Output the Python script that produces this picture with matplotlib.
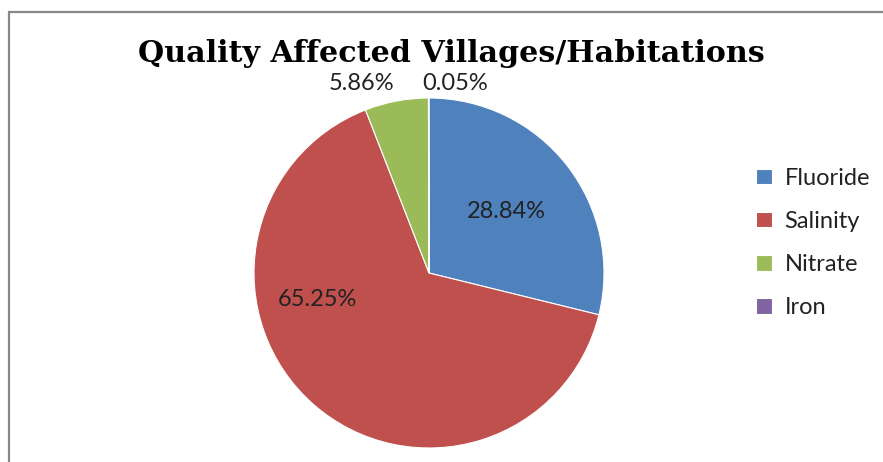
import matplotlib
matplotlib.use('Agg')
from matplotlib import pyplot as plt
from matplotlib.patches import Rectangle

categories = ['Fluoride', 'Salinity', 'Nitrate', 'Iron']
shares = [28.84, 65.25, 5.86, 0.05]
labels = ['28.84%', '65.25%', '5.86%', '0.05%']
colors = ['#4F81BD', '#C0504D', '#9BBB59', '#8064A2']
# label positions in pie units (radius = 1)
label_pos = [(0.44, 0.35), (-0.635, -0.15), (-0.385, 1.085), (0.15, 1.085)]

W, H = 883, 462
fig = plt.figure(figsize=(W / 100, H / 100), dpi=100)

# outer chart frame (cut off at right and bottom)
fig.patches.append(Rectangle((8.5 / W, -0.1), 2.0, 1 - 12.5 / H + 0.1,
                             transform=fig.transFigure, fill=False,
                             edgecolor='#878787', linewidth=1.6))

cx, cy, r = 429, 273, 175
ax = fig.add_axes([(cx - r) / W, (H - cy - r) / H, 2 * r / W, 2 * r / H])
wedges, _ = ax.pie(shares, colors=colors, startangle=90, counterclock=False,
                   wedgeprops=dict(edgecolor='white', linewidth=0.8))
ax.set_xlim(-1, 1)
ax.set_ylim(-1, 1)
ax.set_aspect('equal')

for (x, y), t in zip(label_pos, labels):
    ax.text(x, y, t, ha='center', va='center', fontsize=17,
            family='Lato', color='#222222')

fig.text(451 / W, 1 - 54 / H, 'Quality Affected Villages/Habitations',
         ha='center', va='center', fontsize=21.7, fontweight='bold',
         family='DejaVu Serif')

fig.legend(wedges, categories, loc='center left',
           bbox_to_anchor=(747 / W, 1 - 243 / H), frameon=False,
           borderaxespad=0, prop=dict(family='Lato', size=17),
           handlelength=0.64, handleheight=0.64, handletextpad=0.55,
           labelspacing=0.94, labelcolor='#222222')

fig.savefig('out.png', dpi=100)
